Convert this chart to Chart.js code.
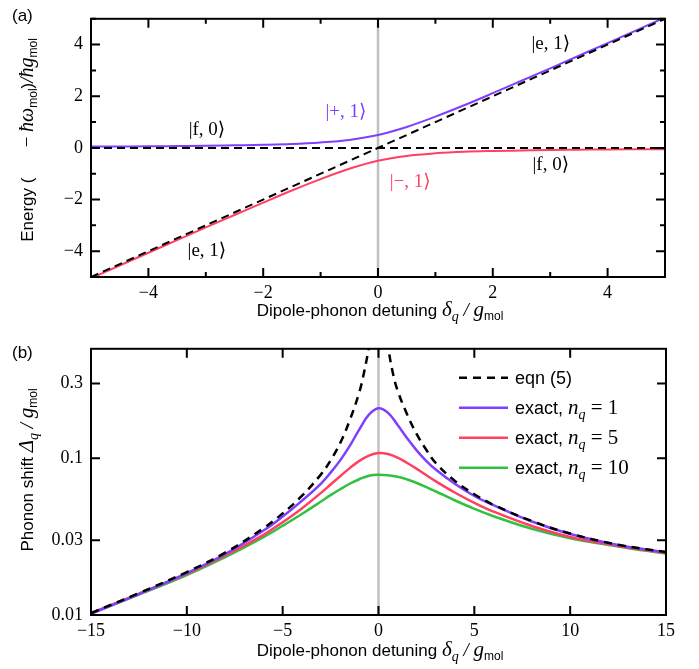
<!DOCTYPE html>
<html>
<head>
<meta charset="utf-8">
<script src="https://cdn.jsdelivr.net/npm/chart.js@4.4.1/dist/chart.umd.min.js"></script>
<style>
  html, body { margin: 0; padding: 0; background: #fff; }
  #wrap { position: relative; width: 699px; height: 669px; }
  #chartA { position: absolute; left: 0; top: 0; }
  #chartB { position: absolute; left: 0; top: 330px; }
</style>
</head>
<body>
<div id="wrap">
  <canvas id="chartA" width="699" height="330"></canvas>
  <canvas id="chartB" width="699" height="339"></canvas>
</div>
<script>
const SANS = '"Liberation Sans", Arial, Helvetica, sans-serif'
const SERIF = '"Liberation Serif", "Times New Roman", "DejaVu Serif", serif'
const PURPLE = '#7f3fff'
const RED = '#ff4062'
const GREEN = '#31c13f'
const GREY = '#c0c0c0'

// ---- panel (a): dressed energies vs detuning ----
const detuningA = [-5, -4.5, -4, -3.5, -3, -2.5, -2, -1.5, -1, -0.5, 0, 0.5, 1, 1.5, 2, 2.5, 3, 3.5, 4, 4.5, 5]
const plusBranch = [0.05, 0.055, 0.06, 0.07, 0.08, 0.10, 0.12, 0.15, 0.21, 0.31, 0.5, 0.81, 1.21, 1.65, 2.12, 2.6, 3.08, 3.57, 4.06, 4.555, 5.05]
const minusBranch = [-5.05, -4.555, -4.06, -3.57, -3.08, -2.6, -2.12, -1.65, -1.21, -0.81, -0.5, -0.31, -0.21, -0.15, -0.12, -0.1, -0.08, -0.07, -0.06, -0.055, -0.05]
const bareX = [-5, 5]
const bareF0 = [0, 0]
const bareE1 = [-5, 5]
const zeroX = [0, 0]
const zeroYA = [-5, 5]
const xTicksA = [-4, -2, 0, 2, 4]
const yTicksA = [-4, -2, 0, 2, 4]
const minorA = [-5, -4, -3, -2, -1, 0, 1, 2, 3, 4, 5]

// ---- panel (b): phonon shift vs detuning ----
const detuningB = [-15, -12.5, -10, -8, -6, -5, -4, -3, -2.5, -2, -1.5, -1, -0.5, 0, 0.5, 1, 1.5, 2, 2.5, 3, 4, 5, 6, 8, 10, 12.5, 15]
const exactN1 = [0.0102, 0.0136, 0.0185, 0.0245, 0.0346, 0.0425, 0.0535, 0.069, 0.081, 0.097, 0.12, 0.153, 0.19, 0.209, 0.195, 0.163, 0.134, 0.112, 0.096, 0.0845, 0.0685, 0.0575, 0.0502, 0.0395, 0.0329, 0.028, 0.0251]
const exactN5 = [0.0103, 0.0137, 0.0183, 0.024, 0.0325, 0.0391, 0.0479, 0.0602, 0.068, 0.0769, 0.0866, 0.0963, 0.1041, 0.1082, 0.1065, 0.101, 0.0934, 0.0856, 0.078, 0.0712, 0.0603, 0.052, 0.0457, 0.037, 0.0315, 0.0276, 0.0249]
const exactN10 = [0.0102, 0.0135, 0.018, 0.0234, 0.0314, 0.0371, 0.0441, 0.053, 0.0582, 0.0635, 0.0688, 0.0735, 0.0775, 0.0786, 0.078, 0.0763, 0.0733, 0.0696, 0.0655, 0.0614, 0.0538, 0.0476, 0.0427, 0.0355, 0.0309, 0.0274, 0.0246]
const eqnX = [-15, -12.5, -10, -8, -6, -5, -4, -3, -2.5, -2, -1.5, -1, -0.75, -0.5, -0.3, 0, 0.3, 0.5, 0.75, 1, 1.5, 2, 2.5, 3, 4, 5, 6, 8, 10, 12.5, 15]
const eqn5 = [0.0103, 0.0138, 0.0188, 0.025, 0.0358, 0.0445, 0.0575, 0.079, 0.097, 0.125, 0.175, 0.265, 0.355, 0.52, 0.85, null, 0.85, 0.52, 0.35, 0.27, 0.19, 0.142, 0.113, 0.093, 0.0715, 0.059, 0.0505, 0.0398, 0.0331, 0.0281, 0.0252]
const zeroYB = [0.01, 0.5]
const xTicksB = [-15, -10, -5, 0, 5, 10, 15]
const yTicksB = [0.01, 0.03, 0.1, 0.3]

const pts = (xs, ys) => xs.map((x, i) => ({ x: x, y: ys[i] }))
const fmt = v => (v < 0 ? '\u2212' + Math.abs(v) : String(v))

// draw a run of text pieces: [text, font, dy]
function rich(ctx, parts, x, y, align) {
  let w = 0
  parts.forEach(p => { ctx.font = p[1]; w += ctx.measureText(p[0]).width })
  let cx = align === 'center' ? x - w / 2 : (align === 'right' ? x - w : x)
  ctx.textAlign = 'left'
  ctx.textBaseline = 'alphabetic'
  parts.forEach(p => {
    ctx.font = p[1]
    ctx.fillText(p[0], cx, y + (p[2] || 0))
    cx += ctx.measureText(p[0]).width
  })
}

function frame(chart, xMaj, xMin, yMaj, yMin) {
  const { ctx, chartArea: a, scales } = chart
  ctx.save()
  ctx.strokeStyle = '#000'
  ctx.lineWidth = 2
  ctx.beginPath()
  const tick = (vals, len, axis) => vals.forEach(v => {
    if (axis === 'x') {
      const px = scales.x.getPixelForValue(v)
      ctx.moveTo(px, a.bottom); ctx.lineTo(px, a.bottom - len)
      ctx.moveTo(px, a.top); ctx.lineTo(px, a.top + len)
    } else {
      const py = scales.y.getPixelForValue(v)
      ctx.moveTo(a.left, py); ctx.lineTo(a.left + len, py)
      ctx.moveTo(a.right, py); ctx.lineTo(a.right - len, py)
    }
  })
  tick(xMin, 5, 'x'); tick(xMaj, 9, 'x')
  tick(yMin, 5, 'y'); tick(yMaj, 9, 'y')
  ctx.stroke()
  ctx.strokeRect(a.left, a.top, a.right - a.left, a.bottom - a.top)
  ctx.restore()
}

function axisOptions(min, max, ticks, pad, extra) {
  return Object.assign({
    min: min, max: max,
    grid: { display: false, drawTicks: false },
    border: { display: false },
    afterBuildTicks: s => { s.ticks = ticks.map(v => ({ value: v })) },
    ticks: { font: { family: SERIF, size: 18 }, color: '#000', padding: pad, maxRotation: 0, autoSkip: false, callback: v => fmt(v) }
  }, extra)
}

const baseOptions = {
  responsive: false,
  animation: false,
  devicePixelRatio: 1,
  plugins: { legend: { display: false }, tooltip: { enabled: false } },
  elements: { point: { radius: 0 } }
}

// labels on panel (a), in data units
const stateLabels = [
  { text: '|f, 0\u27E9', x: -2.98, y: 0.70, color: '#000' },
  { text: '|+, 1\u27E9', x: -0.56, y: 1.40, color: PURPLE },
  { text: '|e, 1\u27E9', x: 3.01, y: 4.02, color: '#000' },
  { text: '|f, 0\u27E9', x: 3.01, y: -0.66, color: '#000' },
  { text: '|\u2212, 1\u27E9', x: 0.56, y: -1.33, color: RED },
  { text: '|e, 1\u27E9', x: -2.98, y: -3.99, color: '#000' }
]

const xTitle = [
  ['Dipole-phonon detuning ', '17px ' + SANS],
  ['\u03B4', 'italic 21px ' + SERIF],
  ['q', 'italic 14px ' + SERIF, 5],
  [' / ', 'italic 19px ' + SERIF],
  ['g', 'italic 21px ' + SERIF],
  ['mol', '12px ' + SANS, 4]
]

new Chart(document.getElementById('chartA'), {
  type: 'line',
  data: {
    datasets: [
      { data: pts(zeroX, zeroYA), borderColor: GREY, borderWidth: 2.5, order: 10 },
      { data: pts(detuningA, plusBranch), borderColor: PURPLE, borderWidth: 2, cubicInterpolationMode: 'monotone', order: 5 },
      { data: pts(detuningA, minusBranch), borderColor: RED, borderWidth: 2, cubicInterpolationMode: 'monotone', order: 5 },
      { data: pts(bareX, bareF0), borderColor: '#000', borderWidth: 2, borderDash: [8, 5], order: 1 },
      { data: pts(bareX, bareE1), borderColor: '#000', borderWidth: 2, borderDash: [8, 5], order: 1 }
    ]
  },
  options: Object.assign({}, baseOptions, {
    layout: { padding: { top: 6, right: 34, left: 0, bottom: 0 } },
    scales: {
      x: axisOptions(-5, 5, xTicksA, 5, { type: 'linear', afterFit: s => { s.height = 53 } }),
      y: axisOptions(-5, 5, yTicksA, 8, { type: 'linear', afterFit: s => { s.width = 91 } })
    }
  }),
  plugins: [{
    id: 'decorA',
    afterDatasetsDraw(chart) {
      const ctx = chart.ctx
      frame(chart, xTicksA, minorA, yTicksA, minorA)
      ctx.save()
      ctx.textAlign = 'center'
      ctx.textBaseline = 'middle'
      ctx.font = '19px ' + SERIF
      stateLabels.forEach(l => {
        ctx.fillStyle = l.color
        ctx.fillText(l.text, chart.scales.x.getPixelForValue(l.x), chart.scales.y.getPixelForValue(l.y))
      })
      ctx.fillStyle = '#000'
      rich(ctx, [['(a)', '17px ' + SANS]], 12, 21, 'left')
      rich(ctx, xTitle, 380, 316, 'center')
      ctx.translate(33, 140)
      ctx.rotate(-Math.PI / 2)
      rich(ctx, [
        ['Energy (', '17px ' + SANS],
        ['\u2003\u2002 ', '17px ' + SANS],
        ['\u2212 ', '19px ' + SERIF],
        ['\u0127\u03C9', 'italic 20px ' + SERIF],
        ['mol', '12px ' + SANS, 4],
        [')', '17px ' + SANS],
        ['/', 'italic 19px ' + SERIF],
        ['\u0127g', 'italic 20px ' + SERIF],
        ['mol', '12px ' + SANS, 4]
      ], 0, 0, 'center')
      ctx.restore()
    }
  }]
})

const legendRows = [
  { parts: [['eqn (5)', '18px ' + SANS]], color: '#000', dash: [8, 6] },
  { parts: [['exact, ', '18px ' + SANS], ['n', 'italic 21px ' + SERIF], ['q', 'italic 14px ' + SERIF, 5], [' = 1', '21px ' + SERIF]], color: PURPLE, dash: [] },
  { parts: [['exact, ', '18px ' + SANS], ['n', 'italic 21px ' + SERIF], ['q', 'italic 14px ' + SERIF, 5], [' = 5', '21px ' + SERIF]], color: RED, dash: [] },
  { parts: [['exact, ', '18px ' + SANS], ['n', 'italic 21px ' + SERIF], ['q', 'italic 14px ' + SERIF, 5], [' = 10', '21px ' + SERIF]], color: GREEN, dash: [] }
]

new Chart(document.getElementById('chartB'), {
  type: 'line',
  data: {
    datasets: [
      { data: pts(zeroX, zeroYB), borderColor: GREY, borderWidth: 2.5, order: 10 },
      { data: pts(detuningB, exactN10), borderColor: GREEN, borderWidth: 2.5, tension: 0.4, order: 4 },
      { data: pts(detuningB, exactN5), borderColor: RED, borderWidth: 2.5, tension: 0.4, order: 3 },
      { data: pts(detuningB, exactN1), borderColor: PURPLE, borderWidth: 2.5, tension: 0.4, order: 2 },
      { data: pts(eqnX, eqn5), borderColor: '#000', borderWidth: 2.5, borderDash: [8, 6], tension: 0.4, spanGaps: false, order: 1 }
    ]
  },
  options: Object.assign({}, baseOptions, {
    layout: { padding: { top: 14, right: 33, left: 0, bottom: 0 } },
    scales: {
      x: axisOptions(-15, 15, xTicksB, 5, { type: 'linear', afterFit: s => { s.height = 54 } }),
      y: axisOptions(0.01, 0.5, yTicksB, 8, { type: 'logarithmic', afterFit: s => { s.width = 91 } })
    }
  }),
  plugins: [{
    id: 'decorB',
    afterDatasetsDraw(chart) {
      const ctx = chart.ctx
      const a = chart.chartArea
      frame(chart, xTicksB, [], yTicksB, [])
      ctx.save()
      legendRows.forEach((r, i) => {
        const cy = a.top + 29 + i * 30
        ctx.strokeStyle = r.color
        ctx.lineWidth = 2.5
        ctx.setLineDash(r.dash)
        ctx.beginPath()
        ctx.moveTo(a.right - 207, cy)
        ctx.lineTo(a.right - 158, cy)
        ctx.stroke()
        ctx.fillStyle = '#000'
        rich(ctx, r.parts, a.right - 151, cy + 6, 'left')
      })
      ctx.setLineDash([])
      ctx.fillStyle = '#000'
      rich(ctx, [['(b)', '17px ' + SANS]], 12, 28, 'left')
      rich(ctx, xTitle, 380, 326, 'center')
      ctx.translate(33, 140)
      ctx.rotate(-Math.PI / 2)
      rich(ctx, [
        ['Phonon shift ', '17px ' + SANS],
        ['\u0394', 'italic 21px ' + SERIF],
        ['q', 'italic 14px ' + SERIF, 5],
        [' / ', 'italic 19px ' + SERIF],
        ['g', 'italic 21px ' + SERIF],
        ['mol', '12px ' + SANS, 4]
      ], 0, 0, 'center')
      ctx.restore()
    }
  }]
})
</script>
</body>
</html>
